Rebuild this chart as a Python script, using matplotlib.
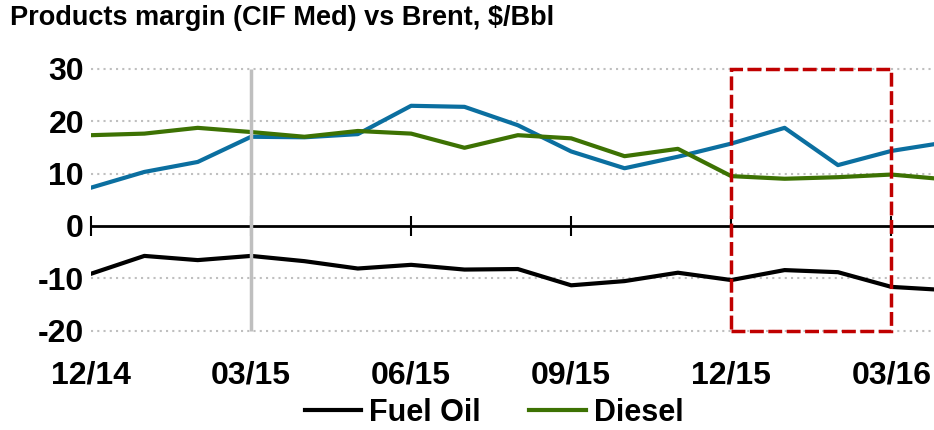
import matplotlib.pyplot as plt
from matplotlib.patches import Rectangle

plt.rcParams['font.family'] = ['Liberation Sans', 'DejaVu Sans']
plt.rcParams['font.weight'] = 'bold'

# monthly points, 12/14 onwards
months = list(range(17))
fuel_oil = [-9.1, -5.7, -6.5, -5.7, -6.7, -8.1, -7.4, -8.3, -8.2, -11.3, -10.5, -8.9, -10.3, -8.4, -8.8, -11.6, -12.2]
diesel = [17.3, 17.6, 18.7, 17.9, 17.0, 18.1, 17.6, 14.9, 17.3, 16.7, 13.3, 14.7, 9.5, 9.0, 9.3, 9.8, 8.9]
gasoline = [7.3, 10.3, 12.2, 17.0, 16.9, 17.5, 22.9, 22.7, 19.2, 14.2, 11.0, 13.2, 15.7, 18.7, 11.6, 14.3, 15.9]
tick_pos = [0, 3, 6, 9, 12, 15]
tick_labels = ["12/14", "03/15", "06/15", "09/15", "12/15", "03/16"]
y_ticks = [-20, -10, 0, 10, 20, 30]

fig = plt.figure(figsize=(9.34, 4.30), dpi=100)
ax = fig.add_axes([91/934, 1 - 333.6/430, 1 - 91/934, (333.6 - 65.9)/430])

for y in [30, 20, 10, -10, -20]:
    ax.axhline(y, color="#bfbfbf", lw=1.5, ls=(0, (1, 2)), zorder=0)

ax.plot(months, gasoline, color="#0b6fa0", lw=3, label="_nolegend_", zorder=3)
ax.plot(months, diesel, color="#3d7203", lw=3, label="Diesel", zorder=3)
ax.plot(months, fuel_oil, color="black", lw=3, label="Fuel Oil", zorder=3)

ax.vlines(3, -20, 30, color="#bfbfbf", lw=2.5, zorder=4)
box = Rectangle((12, -20), 3, 50, fill=False, edgecolor="#c00000", lw=2.5,
                ls=(0, (4, 1.3)), zorder=5)
ax.add_patch(box)

ax.set_xlim(0, 15.8)
ax.set_ylim(-20.5, 30.5)

for s in ["top", "right", "left"]:
    ax.spines[s].set_visible(False)
ax.spines["bottom"].set_position(("data", 0))
ax.spines["bottom"].set_linewidth(2)
ax.spines["bottom"].set_zorder(2)

ax.set_xticks(tick_pos)
ax.set_xticklabels(tick_labels, fontsize=23, fontweight="bold")
ax.tick_params(axis="x", direction="inout", length=15, width=1.5, pad=89)
ax.set_yticks(y_ticks)
ax.set_yticklabels([str(v) for v in y_ticks], fontsize=23, fontweight="bold")
ax.tick_params(axis="y", length=0, pad=5)

fig.text(10/934, 1 - 5/430, "Products margin (CIF Med) vs Brent, $/Bbl",
         fontsize=19.5, fontweight="bold", va="top", ha="left")

handles, labels = ax.get_legend_handles_labels()
order = [1, 0]
fig.legend([handles[i] for i in order], [labels[i] for i in order],
           loc="center", bbox_to_anchor=(494/934, 1 - 413/430), ncol=2,
           frameon=False, fontsize=22, handlelength=1.85, handletextpad=0.25,
           columnspacing=1.6, borderaxespad=0, borderpad=0)

fig.savefig("out.png", dpi=100)
